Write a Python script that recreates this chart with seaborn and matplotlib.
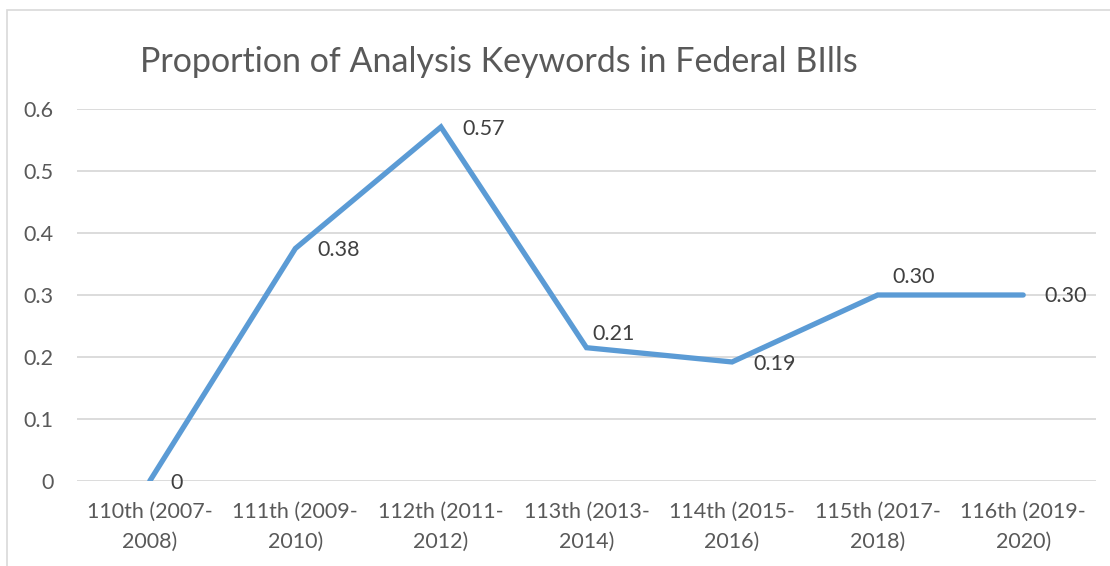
import matplotlib
matplotlib.use("Agg")
import matplotlib.pyplot as plt
import seaborn as sns
import pandas as pd
from matplotlib.patches import Rectangle

categories = ["110th (2007-\n2008)", "111th (2009-\n2010)", "112th (2011-\n2012)",
              "113th (2013-\n2014)", "114th (2015-\n2016)", "115th (2017-\n2018)",
              "116th (2019-\n2020)"]
values = [0.0, 0.375, 0.571, 0.215, 0.192, 0.30, 0.30]
labels = ["0", "0.38", "0.57", "0.21", "0.19", "0.30", "0.30"]
title = "Proportion of Analysis Keywords in Federal BIlls"

# label offsets in pixels (dx to left edge, dy)
label_offsets = [(21, -2), (22, -2), (21, -2), (6, 14), (21, -2), (15, 18), (21, -1)]

sns.set_theme(style="white")
FONT = ["Lato", "DejaVu Sans"]
plt.rcParams["font.family"] = FONT

TXT = "#595959"
GRID = "#D9D9D9"
LINE = "#5B9BD5"

df = pd.DataFrame({"cat": categories, "val": values})
df["x"] = range(len(categories))

fig = plt.figure(figsize=(11.10, 5.66), dpi=100)
ax = fig.add_axes([77 / 1110, 85 / 566, (1096 - 77) / 1110, (481 - 109) / 566])

sns.lineplot(data=df, x="x", y="val", ax=ax, color=LINE, linewidth=3.8,
             solid_capstyle="round", solid_joinstyle="miter")

ax.set_xlim(-0.5, len(categories) - 0.5)
ax.set_ylim(0, 0.6)
ax.set_yticks([0, 0.1, 0.2, 0.3, 0.4, 0.5, 0.6])
ax.set_yticklabels(["0", "0.1", "0.2", "0.3", "0.4", "0.5", "0.6"])
ax.set_xticks(range(len(categories)))
ax.set_xticklabels(categories, linespacing=1.6)
ax.tick_params(axis="y", length=0, pad=17, labelsize=15.5, labelcolor=TXT)
ax.tick_params(axis="x", length=0, pad=15, labelsize=15.5, labelcolor=TXT)
ax.yaxis.grid(True, color=GRID, linewidth=1.3)
ax.set_axisbelow(True)
for s in ax.spines.values():
    s.set_visible(False)
ax.set_xlabel("")
ax.set_ylabel("")

for i, (v, lab) in enumerate(zip(values, labels)):
    dx, dy = label_offsets[i]
    ax.annotate(lab, (i, v), xytext=(dx, dy), textcoords="offset pixels",
                ha="left", va="center", fontsize=15.5, color="#404040")

fig.text(140 / 1110, 1 - 62 / 566, title, ha="left", va="center",
         fontsize=24.5, color=TXT)

fig.patches.append(Rectangle((7 / 1110, -0.1), 1.2, 1 - 10 / 566 + 0.1,
                             transform=fig.transFigure, fill=False,
                             edgecolor=GRID, linewidth=1.2))

fig.savefig("out.png", dpi=100)
